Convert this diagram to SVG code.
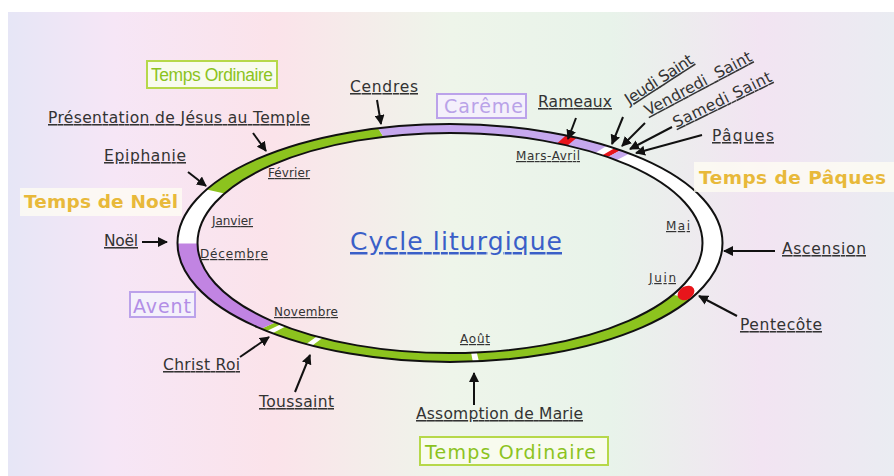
<svg xmlns="http://www.w3.org/2000/svg" width="894" height="476" viewBox="0 0 894 476">
<defs>
<linearGradient id="bg" x1="0" y1="0" x2="1" y2="0">
<stop offset="0" stop-color="#e6e6f6"/>
<stop offset="0.12" stop-color="#f6e6f6"/>
<stop offset="0.3" stop-color="#fbe3ea"/>
<stop offset="0.5" stop-color="#eef5ea"/>
<stop offset="0.68" stop-color="#e8f3ea"/>
<stop offset="0.85" stop-color="#f2e4f2"/>
<stop offset="1" stop-color="#eaecf2"/>
</linearGradient>
<marker id="ah" viewBox="0 0 10 10" refX="9" refY="5" markerWidth="5" markerHeight="5" orient="auto" markerUnits="strokeWidth">
<path d="M0,0 L10,5 L0,10 z" fill="#111"/>
</marker>
<style>
.lbl{font-family:"DejaVu Sans","Liberation Sans",sans-serif;font-size:15.5px;fill:#333;text-decoration:underline;}
.sm{font-size:12px;}
.arr{stroke:#111;stroke-width:2;fill:none;marker-end:url(#ah);}
.seg{fill:none;stroke-width:7.6;}
.edge{fill:none;stroke:#111;stroke-width:2;}
.season{font-family:"DejaVu Sans","Liberation Sans",sans-serif;font-size:19px;}
.green{fill:#8cc31e;}
.yellow{fill:#e8b93a;font-weight:bold;font-size:18.5px;}
.purple{fill:#b9a2e8;}
.gbox{fill:#f8fbee;stroke:#b6d84a;stroke-width:2;}
.pbox{fill:#f4f0fb;stroke:#bba2ea;stroke-width:2;}
.ybox{fill:#fffdf3;fill-opacity:0.75;}
</style>
</defs>
<rect x="0" y="0" width="894" height="476" fill="#ffffff"/>
<rect x="8" y="12" width="886" height="464" fill="url(#bg)"/>

<g id="ring">
<g transform="translate(450,243) scale(2.625,1.145)">
<circle class="seg" r="100" pathLength="360" stroke="#ffffff"/>
<circle class="seg" r="100" pathLength="360" stroke="#8cc31e" stroke-dasharray="106 254" stroke-dashoffset="-28"/>
<circle class="seg" r="100" pathLength="360" stroke="#ffffff" stroke-dasharray="1.3 358.7" stroke-dashoffset="-84"/>
<circle class="seg" r="100" pathLength="360" stroke="#ffffff" stroke-dasharray="1.5 358.5" stroke-dashoffset="-120.5"/>
<circle class="seg" r="100" pathLength="360" stroke="#ffffff" stroke-dasharray="1.6 358.4" stroke-dashoffset="-130.8"/>
<circle class="seg" r="100" pathLength="360" stroke="#c184e2" stroke-dasharray="46 314" stroke-dashoffset="-134"/>
<circle class="seg" r="100" pathLength="360" stroke="#8cc31e" stroke-dasharray="48 312" stroke-dashoffset="-207"/>
<circle class="seg" r="100" pathLength="360" stroke="#c6a8ee" stroke-dasharray="50.5 309.5" stroke-dashoffset="-255"/>
<circle class="seg" r="100" pathLength="360" stroke="#e8151b" stroke-dasharray="2.6 357.4" stroke-dashoffset="-295.5"/>
<circle class="seg" r="100" pathLength="360" stroke="#e8151b" stroke-dasharray="1.6 358.4" stroke-dashoffset="-307.5"/>
<circle class="seg" r="100" pathLength="360" stroke="#c6a8ee" stroke-dasharray="2.5 357.5" stroke-dashoffset="-309.1"/>
</g>
<ellipse class="edge" cx="450" cy="243" rx="272.5" ry="118.9"/>
<ellipse class="edge" cx="450" cy="243" rx="252.5" ry="110.1"/>
<ellipse cx="686" cy="293" rx="9" ry="6.5" fill="#e8151b" transform="rotate(-30 686 293)"/>
</g>

<g id="title"><text x="350" y="250" textLength="212" font-family="DejaVu Sans, Liberation Sans, sans-serif" font-size="25" fill="#3a5fc8" text-decoration="underline">Cycle liturgique</text></g>

<g id="seasons">
<g id="s-ordinaire-top"><rect class="gbox" x="147" y="61" width="130" height="27"/><text class="green" x="151" y="81" textLength="122" font-family="Liberation Sans, Arial, sans-serif" font-size="17.5">Temps Ordinaire</text></g>
<g id="s-careme"><rect class="pbox" x="437" y="94" width="89" height="24"/><text class="season purple" x="444" y="113" textLength="79">Carême</text></g>
<g id="s-noel"><rect class="ybox" x="20" y="188" width="162" height="28"/><text class="season yellow" x="24" y="208" textLength="154" font-size="18">Temps de Noël</text></g>
<g id="s-avent"><rect class="pbox" x="130" y="292" width="65" height="25"/><text class="season purple" x="133" y="313" textLength="58" style="fill:#b28ee6">Avent</text></g>
<g id="s-paques"><rect class="ybox" x="694" y="162" width="200" height="30"/><text class="season yellow" x="699" y="184" textLength="187">Temps de Pâques</text></g>
<g id="s-ordinaire-bottom"><rect class="gbox" x="420" y="437" width="188" height="28"/><text class="season green" x="425" y="459" textLength="171">Temps Ordinaire</text></g>
</g>

<g id="labels">
<g id="n-cendres"><text class="lbl" x="350" y="92" textLength="68">Cendres</text></g>
<g id="n-presentation"><text class="lbl" x="48" y="123" textLength="262">Présentation de Jésus au Temple</text></g>
<g id="n-epiphanie"><text class="lbl" x="104" y="161" textLength="82">Epiphanie</text></g>
<g id="n-fevrier"><text class="lbl sm" x="268" y="177" textLength="42">Février</text></g>
<g id="n-janvier"><text class="lbl sm" x="212" y="225" textLength="41">Janvier</text></g>
<g id="n-noel"><text class="lbl" x="104" y="246" textLength="34" font-size="14.5">Noël</text></g>
<g id="n-decembre"><text class="lbl sm" x="200" y="258" textLength="68">Décembre</text></g>
<g id="n-novembre"><text class="lbl sm" x="274" y="316" textLength="64">Novembre</text></g>
<g id="n-christroi"><text class="lbl" x="163" y="370" textLength="77">Christ Roi</text></g>
<g id="n-toussaint"><text class="lbl" x="259" y="407" textLength="75">Toussaint</text></g>
<g id="n-aout"><text class="lbl sm" x="460" y="343" textLength="30">Août</text></g>
<g id="n-assomption"><text class="lbl" x="416" y="419" textLength="167">Assomption de Marie</text></g>
<g id="n-rameaux"><text class="lbl" x="538" y="107" textLength="74">Rameaux</text></g>
<g id="n-marsavril"><text class="lbl sm" x="516" y="160" textLength="64">Mars-Avril</text></g>
<g id="n-jeudi"><text class="lbl" transform="translate(629,105) rotate(-33)" textLength="78">Jeudi Saint</text></g>
<g id="n-vendredi"><text class="lbl" transform="translate(648,116) rotate(-28)" textLength="119" xml:space="preserve">Vendredi  Saint</text></g>
<g id="n-samedi"><text class="lbl" transform="translate(676,128) rotate(-26)" textLength="108">Samedi Saint</text></g>
<g id="n-paques"><text class="lbl" x="712" y="141" textLength="62">Pâques</text></g>
<g id="n-mai"><text class="lbl sm" x="666" y="230" textLength="24">Mai</text></g>
<g id="n-juin"><text class="lbl sm" x="649" y="282" textLength="27">Juin</text></g>
<g id="n-ascension"><text class="lbl" x="782" y="254" textLength="84" font-size="16">Ascension</text></g>
<g id="n-pentecote"><text class="lbl" x="740" y="330" textLength="82">Pentecôte</text></g>
</g>

<g id="connectors">
<line class="arr" x1="377" y1="100" x2="381" y2="124"/>
<line class="arr" x1="253" y1="133" x2="266" y2="151"/>
<line class="arr" x1="188" y1="172" x2="206" y2="186"/>
<line class="arr" x1="142" y1="242" x2="167" y2="242"/>
<line class="arr" x1="240" y1="357" x2="269" y2="337"/>
<line class="arr" x1="295" y1="392" x2="310" y2="355"/>
<line class="arr" x1="474" y1="405" x2="474" y2="373"/>
<line class="arr" x1="576" y1="118" x2="568" y2="139"/>
<line class="arr" x1="623" y1="117" x2="612" y2="144"/>
<line class="arr" x1="645" y1="123" x2="622" y2="146"/>
<line class="arr" x1="672" y1="127" x2="630" y2="149"/>
<line class="arr" x1="702" y1="135" x2="636" y2="153"/>
<line class="arr" x1="775" y1="251" x2="724" y2="251"/>
<line class="arr" x1="737" y1="316" x2="699" y2="296"/>
</g>
</svg>
